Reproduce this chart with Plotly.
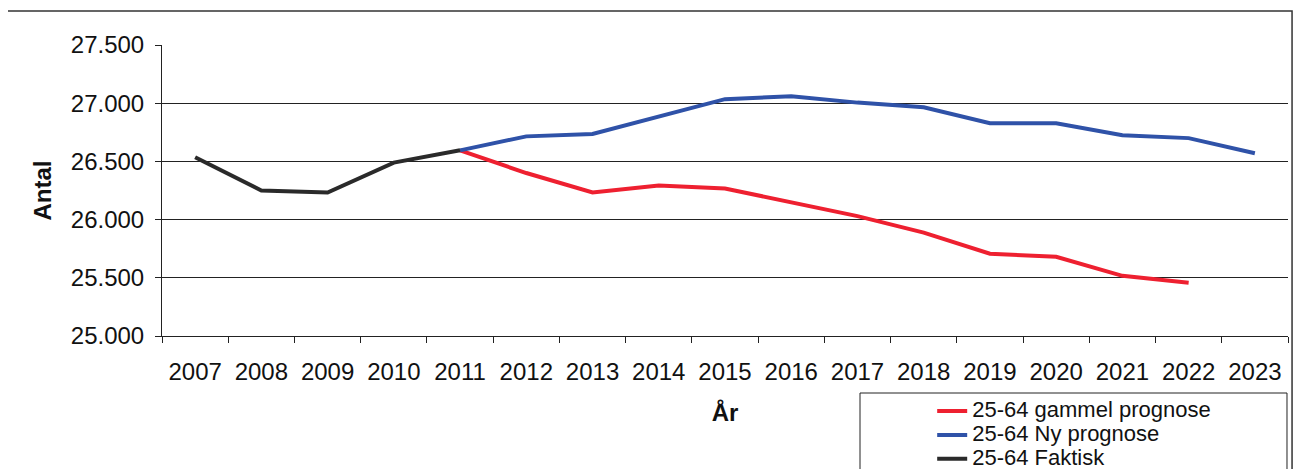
import plotly.graph_objects as go

years = [str(y) for y in range(2007, 2024)]
gammel = [None, None, None, None, 26595, 26400, 26233, 26292, 26267, 26150, 26030,
          25888, 25707, 25681, 25517, 25457, None]
ny = [None, None, None, None, 26595, 26715, 26735, 26888, 27035, 27060, 27005,
      26965, 26828, 26828, 26724, 26700, 26570]
faktisk = [26535, 26250, 26233, 26490, 26595, None, None, None, None, None, None,
           None, None, None, None, None, None]
series_names = ["25-64 gammel prognose", "25-64 Ny prognose", "25-64 Faktisk"]
y_ticks = [25000, 25500, 26000, 26500, 27000, 27500]
grid_vals = [25500, 26000, 26500, 27000]

FONT = "Arial, Liberation Sans, sans-serif"


def legend_label(s):
    return '<span style="font-size:22px">' + s + '</span>'


fig = go.Figure()
fig.add_trace(go.Scatter(x=years, y=gammel, mode="lines", name=legend_label(series_names[0]),
                         line=dict(color="#EE2030", width=4)))
fig.add_trace(go.Scatter(x=years, y=ny, mode="lines", name=legend_label(series_names[1]),
                         line=dict(color="#2F52A8", width=4)))
fig.add_trace(go.Scatter(x=years, y=faktisk, mode="lines", name=legend_label(series_names[2]),
                         line=dict(color="#2A2A2A", width=4)))
# invisible trace on overlay axis to carry gridlines
fig.add_trace(go.Scatter(x=years, y=[None] * len(years), yaxis="y2", showlegend=False,
                         hoverinfo="skip"))

fig.update_layout(
    width=1297, height=461,
    margin=dict(l=154, r=17, t=37, b=133, autoexpand=False),
    paper_bgcolor="white", plot_bgcolor="white",
    separators=",.",
    font=dict(family=FONT, color="#111", size=24),
    xaxis=dict(type="category", range=[-0.5, 16.5], tickson="boundaries",
               ticks="outside", ticklen=6, tickcolor="#222", showline=True,
               linecolor="#222", linewidth=1, showgrid=False,
               tickfont=dict(size=24), ticklabelstandoff=14,
               title=dict(text="<b>År</b>", font=dict(size=24), standoff=20)),
    yaxis=dict(range=[25000, 27500], tickvals=y_ticks, tickformat=",.0f",
               ticks="outside", ticklen=6, tickcolor="#222", showline=True,
               linecolor="#222", linewidth=1, showgrid=False, zeroline=False,
               tickfont=dict(size=24), ticklabelstandoff=6,
               title=dict(text="<b>Antal</b>", font=dict(size=24), standoff=12)),
    yaxis2=dict(range=[25000, 27500], overlaying="y", tickvals=grid_vals,
                showticklabels=False, showgrid=True, gridcolor="#222", gridwidth=1,
                zeroline=False, showline=False, ticks=""),
    legend=dict(x=0.684, y=-0.2, xanchor="left", yanchor="top",
                bgcolor="rgba(0,0,0,0)", borderwidth=0, tracegroupgap=0,
                font=dict(size=16)),
    shapes=[
        dict(type="rect", xref="paper", yref="paper", x0=-0.1394, x1=1.0036,
             y0=-0.7, y1=1.1168, line=dict(color="#333", width=1.5), layer="below"),
        dict(type="rect", xref="paper", yref="paper", x0=0.6199, x1=0.9991,
             y0=-0.7, y1=-0.1959, line=dict(color="#222", width=1), layer="below"),
    ],
)

fig.write_html("out.html")
